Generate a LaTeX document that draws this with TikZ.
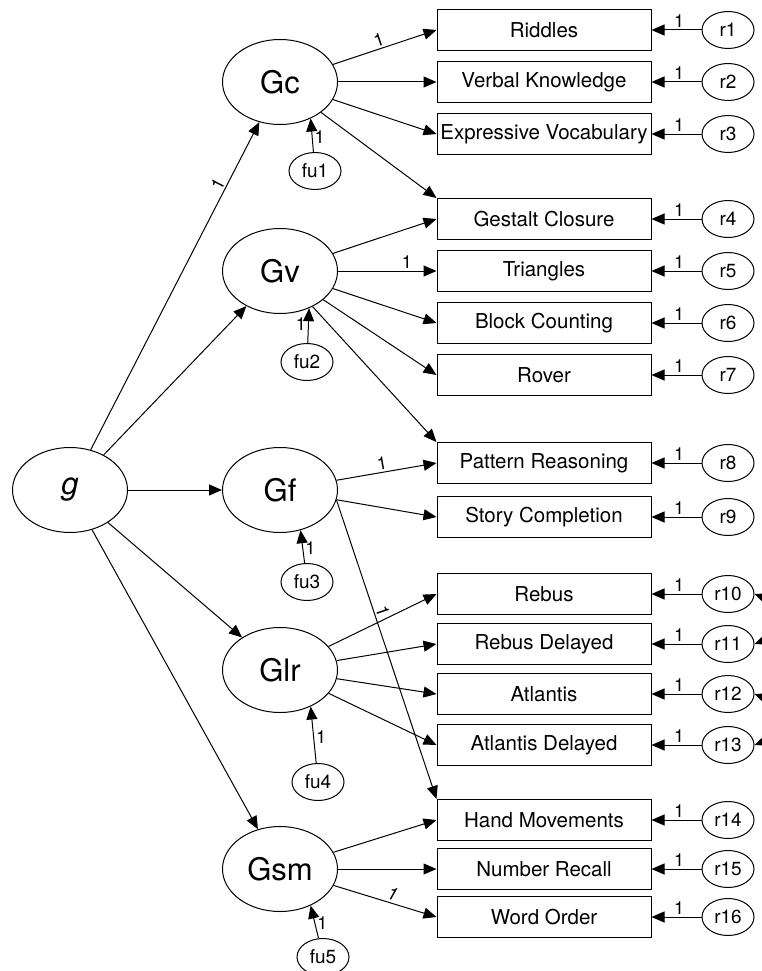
\documentclass[tikz,border=0pt]{standalone}
\usepackage{fontspec}
\setmainfont{TeX Gyre Heros}
\usetikzlibrary{arrows.meta,positioning,shapes.geometric}

\begin{document}
\begin{tikzpicture}[x=1pt, y=-1pt, line width=1pt,
  latent/.style={draw, ellipse, minimum width=115pt, minimum height=85pt, inner sep=0pt, font=\fontsize{31}{33}\selectfont},
  resid/.style={draw, ellipse, minimum width=52pt, minimum height=37pt, inner sep=0pt, font=\fontsize{19}{21}\selectfont},
  test/.style={draw, rectangle, minimum width=214pt, minimum height=41pt, inner sep=0pt, font=\fontsize{20.5}{22}\selectfont},
  wt/.style={font=\fontsize{18}{20}\selectfont, inner sep=2pt},
  >={Triangle[length=13pt,width=11pt]}
]
  \useasboundingbox (0,0) rectangle (762,971);

  % latent factors
  \node[latent] (g) at (70,490) {\textit{g}};
  \node[latent] (Gc) at (280,82) {Gc};
  \node[latent] (Gv) at (280,271) {Gv};
  \node[latent] (Gf) at (280,490) {Gf};
  \node[latent] (Glr) at (280,670) {Glr};
  \node[latent] (Gsm) at (280,869) {Gsm};

  % factor disturbances
  \node[resid] (fu1) at (315,171) {fu1};
  \node[resid] (fu2) at (307,362) {fu2};
  \node[resid] (fu3) at (307,582) {fu3};
  \node[resid] (fu4) at (318,782) {fu4};
  \node[resid] (fu5) at (323,957) {fu5};

  % subtests
  \node[test] (riddles) at (544,30) {Riddles};
  \node[test] (verbal) at (544,82) {Verbal Knowledge};
  \node[test] (expvoc) at (544,134) {Expressive Vocabulary};
  \node[test] (gestalt) at (544,219) {Gestalt Closure};
  \node[test] (triangles) at (544,271) {Triangles};
  \node[test] (blocks) at (544,323) {Block Counting};
  \node[test] (rover) at (544,375) {Rover};
  \node[test] (pattern) at (544,463) {Pattern Reasoning};
  \node[test] (story) at (544,517) {Story Completion};
  \node[test] (rebus) at (544,594) {Rebus};
  \node[test] (rebusdel) at (544,644) {Rebus Delayed};
  \node[test] (atlantis) at (544,694) {Atlantis};
  \node[test] (atlantisdel) at (544,745) {Atlantis Delayed};
  \node[test] (handmov) at (544,820) {Hand Movements};
  \node[test] (numrecall) at (544,869) {Number Recall};
  \node[test] (wordorder) at (544,917) {Word Order};

  % residuals
  \node[resid] (r1) at (728,30) {r1};
  \node[resid] (r2) at (728,82) {r2};
  \node[resid] (r3) at (728,134) {r3};
  \node[resid] (r4) at (728,219) {r4};
  \node[resid] (r5) at (728,271) {r5};
  \node[resid] (r6) at (728,323) {r6};
  \node[resid] (r7) at (728,375) {r7};
  \node[resid] (r8) at (728,463) {r8};
  \node[resid] (r9) at (728,517) {r9};
  \node[resid] (r10) at (728,594) {r10};
  \node[resid] (r11) at (728,644) {r11};
  \node[resid] (r12) at (728,694) {r12};
  \node[resid] (r13) at (728,745) {r13};
  \node[resid] (r14) at (728,820) {r14};
  \node[resid] (r15) at (728,869) {r15};
  \node[resid] (r16) at (728,917) {r16};

  % g to broad abilities
  \draw[->] (g) -- node[wt, sloped, above, pos=0.8] {1} (Gc);
  \draw[->] (g) -- (Gv);
  \draw[->] (g) -- (Gf);
  \draw[->] (g) -- (Glr);
  \draw[->] (g) -- (Gsm);

  % disturbances
  \draw[->] (fu1) -- node[wt, right, pos=0.45] {1} (Gc.-50);
  \draw[->] (fu2) -- node[wt, left, pos=0.55] {1} (Gv.-52);
  \draw[->] (fu3) -- node[wt, right, pos=0.45] {1} (Gf.-63);
  \draw[->] (fu4) -- node[wt, right, pos=0.45] {1} (Glr.-50);
  \draw[->] (fu5) -- node[wt, right, pos=0.45] {1} (Gsm.-50);

  % loadings
  \draw[->] (Gc) -- node[wt, sloped, above, pos=0.47] {1} (riddles.west);
  \draw[->] (Gc) -- (verbal);
  \draw[->] (Gc) -- (expvoc.west);
  \draw[->] (Gc) -- (gestalt.north west);
  \draw[->] (Gv) -- (gestalt.west);
  \draw[->] (Gv) -- node[wt, above, pos=0.7] {1} (triangles);
  \draw[->] (Gv) -- (blocks.west);
  \draw[->] (Gv) -- (rover.west);
  \draw[->] (Gv) -- (pattern.north west);
  \draw[->] (Gf) -- node[wt, sloped, above, pos=0.47] {1} (pattern.west);
  \draw[->] (Gf) -- (story.west);
  \draw[->] (Gf.-10) -- node[wt, sloped, above, pos=0.38] {1} (handmov.north west);
  \draw[->] (Glr) -- (rebus.west);
  \draw[->] (Glr) -- (rebusdel.west);
  \draw[->] (Glr) -- (atlantis.west);
  \draw[->] (Glr) -- (atlantisdel.west);
  \draw[->] (Gsm) -- (handmov.west);
  \draw[->] (Gsm) -- (numrecall);
  \draw[->] (Gsm) -- node[wt, sloped, above, pos=0.55] {\textit{1}} (wordorder.west);

  % residual paths
  \draw[->] (r1) -- node[wt, above, pos=0.45] {1} (riddles);
  \draw[->] (r2) -- node[wt, above, pos=0.45] {1} (verbal);
  \draw[->] (r3) -- node[wt, above, pos=0.45] {1} (expvoc);
  \draw[->] (r4) -- node[wt, above, pos=0.45] {1} (gestalt);
  \draw[->] (r5) -- node[wt, above, pos=0.45] {1} (triangles);
  \draw[->] (r6) -- node[wt, above, pos=0.45] {1} (blocks);
  \draw[->] (r7) -- node[wt, above, pos=0.45] {1} (rover);
  \draw[->] (r8) -- node[wt, above, pos=0.45] {1} (pattern);
  \draw[->] (r9) -- node[wt, above, pos=0.45] {1} (story);
  \draw[->] (r10) -- node[wt, above, pos=0.45] {1} (rebus);
  \draw[->] (r11) -- node[wt, above, pos=0.45] {1} (rebusdel);
  \draw[->] (r12) -- node[wt, above, pos=0.45] {1} (atlantis);
  \draw[->] (r13) -- node[wt, above, pos=0.45] {1} (atlantisdel);
  \draw[->] (r14) -- node[wt, above, pos=0.45] {1} (handmov);
  \draw[->] (r15) -- node[wt, above, pos=0.45] {1} (numrecall);
  \draw[->] (r16) -- node[wt, above, pos=0.45] {1} (wordorder);

  % residual covariances (cut off at the right edge)
  \draw[<->] (r10.east) .. controls +(40,15) and +(40,-15) .. (r11.east);
  \draw[<->] (r12.east) .. controls +(40,15) and +(40,-15) .. (r13.east);
\end{tikzpicture}
\end{document}
